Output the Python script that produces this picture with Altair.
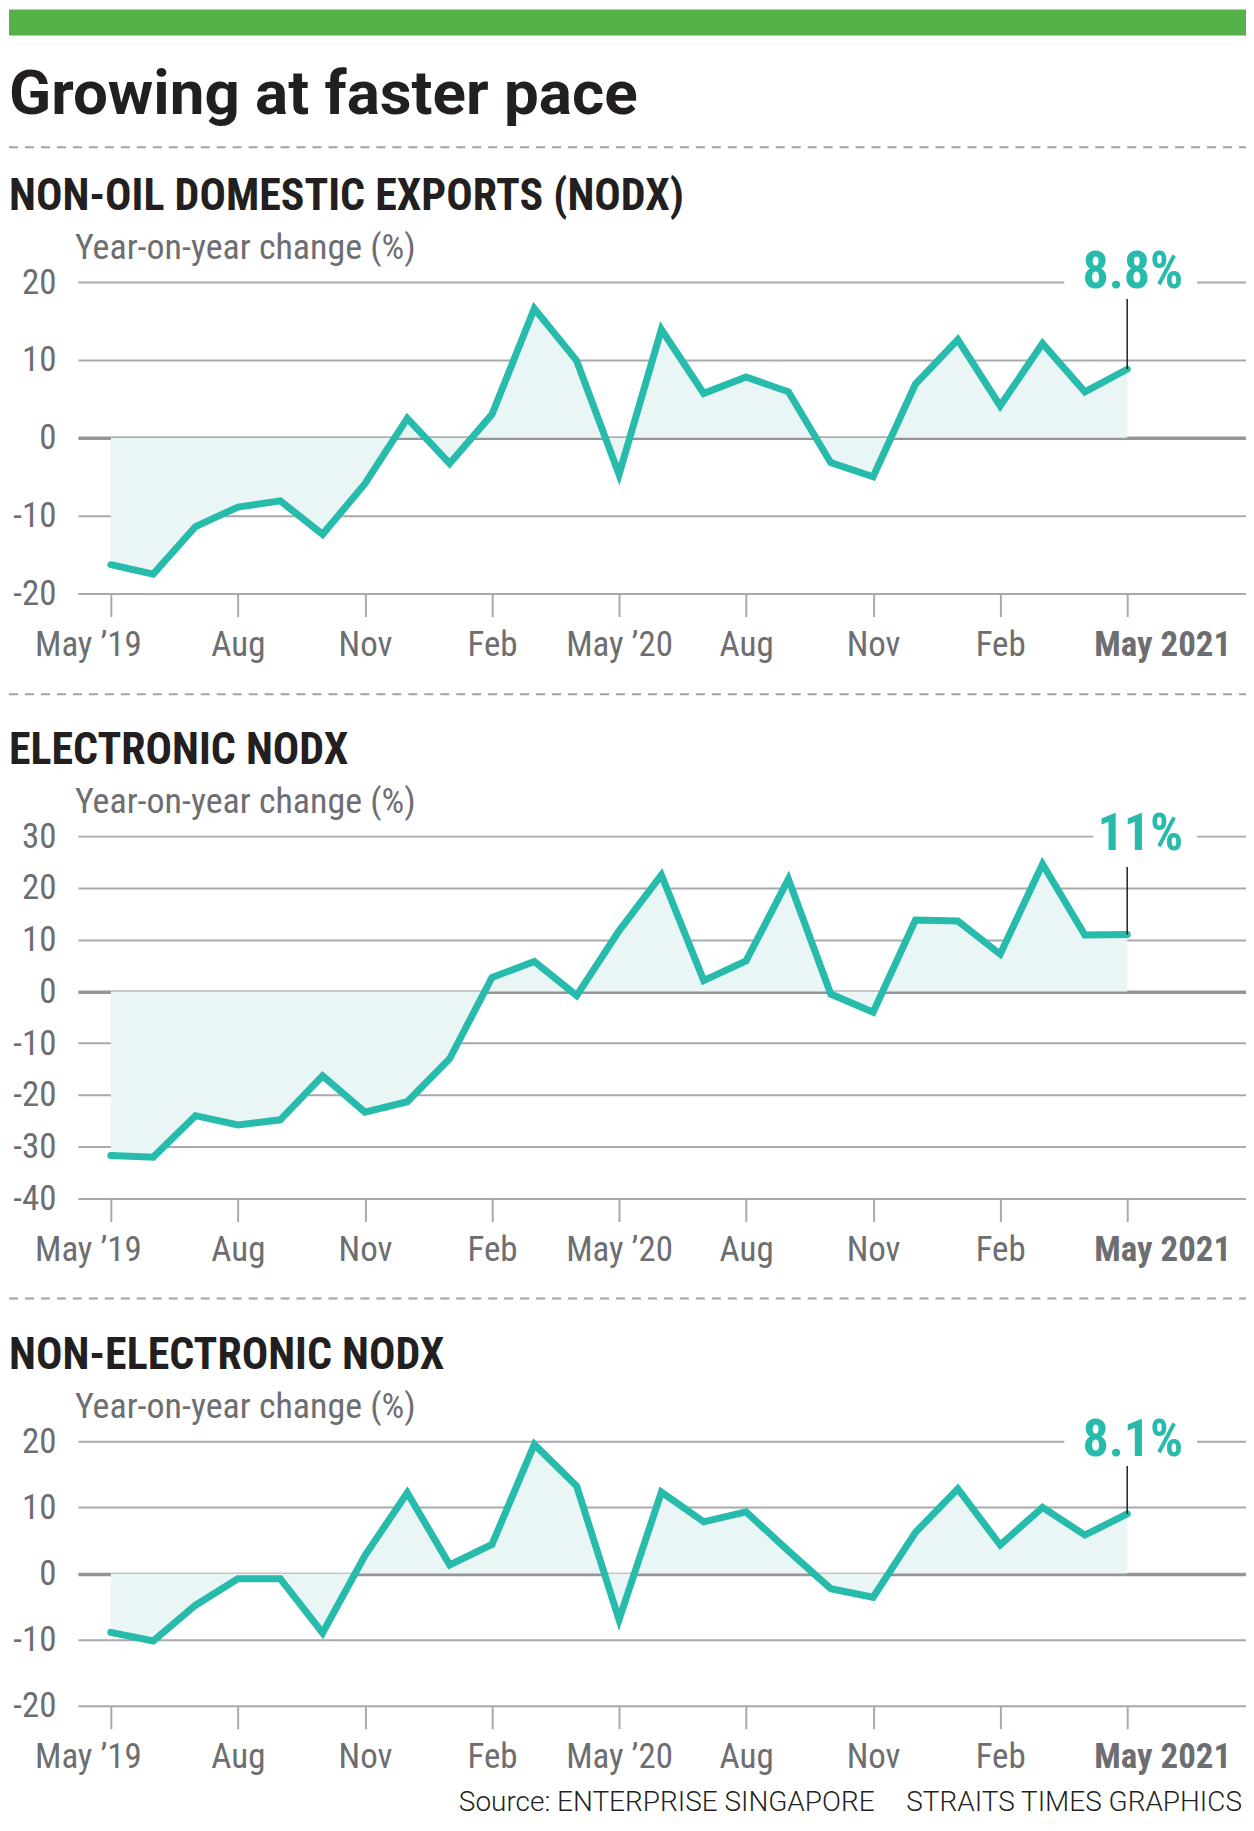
import json
import altair as alt
import pandas as pd

# ---------------- data ----------------
months = list(range(25))  # May 2019 .. May 2021
tick_months = [0, 3, 6, 9, 12, 15, 18, 21, 24]
tick_labels = ["May \u201919", "Aug", "Nov", "Feb", "May \u201920", "Aug", "Nov", "Feb", "May 2021"]

nodx = [-16.3, -17.5, -11.4, -8.9, -8.1, -12.4, -5.9, 2.5, -3.3, 3.0, 16.6, 9.9, -4.7,
        13.9, 5.7, 7.8, 5.9, -3.2, -5.0, 6.9, 12.6, 4.1, 12.1, 5.9, 8.8]
elec = [-31.7, -32.0, -24.0, -25.8, -24.8, -16.3, -23.3, -21.3, -13.0, 2.7, 5.8, -0.8, 11.7,
        22.5, 2.1, 5.9, 21.7, -0.5, -4.0, 13.8, 13.6, 7.2, 24.6, 10.9, 11.0]
nonelec = [-8.9, -10.2, -4.8, -0.8, -0.8, -9.0, 2.7, 12.2, 1.3, 4.4, 19.5, 13.2, -7.0,
           12.3, 7.8, 9.3, 3.4, -2.3, -3.6, 6.2, 12.8, 4.3, 10.0, 5.8, 9.0]

panel_titles = ["NON-OIL DOMESTIC EXPORTS (NODX)", "ELECTRONIC NODX", "NON-ELECTRONIC NODX"]
end_labels = ["8.8%", "11%", "8.1%"]
y_ticks = [[-20, -10, 0, 10, 20],
           [-40, -30, -20, -10, 0, 10, 20, 30],
           [-20, -10, 0, 10, 20]]
main_title = "Growing at faster pace"
axis_title = "Year-on-year change (%)"
source_left = "Source: ENTERPRISE SINGAPORE"
source_right = "STRAITS TIMES GRAPHICS"

# ---------------- style ----------------
TEAL = "#26bbaa"
FILL = "#e9f6f5"
GRID = "#a7a9ac"
ZERO = "#939598"
LABEL = "#6d6e71"
DARK = "#231f20"
GREEN = "#54b248"
DASH = "#a0a2a5"
FN = "Liberation Sans Narrow, Arial Narrow, Roboto Condensed, Roboto, sans-serif"
FT = "Roboto, sans-serif"

W = 1175
heights = [312, 363, 265]
dash_y = [-135, -142, -143]
sub_y = [-72, -72, -72]
lab_y = [6, 14, 15]
rule_top = [17, 31, 25]
gap_left = [-63, -34, -63]
X_DOMAIN = [-0.778, 26.923]

label_expr = json.dumps(tick_labels, ensure_ascii=False) + "[round(datum.value / 3)]"


def txt(s, x, y, size, weight="normal", color=DARK, font=FN, align="left"):
    return alt.Chart(pd.DataFrame({"t": [s]})).mark_text(
        align=align, baseline="alphabetic", font=font, fontSize=size,
        fontWeight=weight, color=color
    ).encode(x=alt.value(x), y=alt.value(y), text="t:N")


def panel(i, values):
    df = pd.DataFrame({"m": months, "v": values})
    yt = y_ticks[i]
    xscale = alt.Scale(domain=X_DOMAIN, nice=False, zero=False)
    yscale = alt.Scale(domain=[yt[0], yt[-1]], nice=False, zero=False)

    xaxis = alt.Axis(
        values=tick_months, grid=False, domain=False, ticks=True, tickSize=23,
        tickColor=GRID, tickWidth=2, title=None, labelExpr=label_expr,
        labelFont=FN, labelFontSize=35, labelColor=LABEL, labelPadding=39,
        labelBaseline="alphabetic", labelAlign="center",
        labelOffset={"condition": [{"test": "datum.value === 0", "value": -23},
                                   {"test": "datum.value === 24", "value": 35}],
                     "value": 0},
        labelFontWeight={"condition": {"test": "datum.value === 24", "value": "bold"},
                         "value": "normal"},
        labelFlush=False, labelOverlap=False,
    )
    yaxis = alt.Axis(
        values=yt, grid=True, domain=False, ticks=False, title=None,
        gridColor={"condition": {"test": "datum.value === 0", "value": ZERO}, "value": GRID},
        gridWidth={"condition": {"test": "datum.value === 0", "value": 3.5}, "value": 2},
        labelExpr="'' + datum.value", labelFont=FN, labelFontSize=35, labelColor=LABEL,
        labelPadding=22, labelAlign="right", labelBaseline="middle",
    )
    X = lambda: alt.X("m:Q", scale=xscale, axis=xaxis)
    Y = lambda: alt.Y("v:Q", scale=yscale, axis=yaxis)

    base = alt.Chart(df)
    area = base.mark_area(color=FILL, opacity=1).encode(x=X(), y=Y(), y2=alt.datum(0))
    line = base.mark_line(color=TEAL, strokeWidth=7, strokeJoin="miter",
                          strokeCap="round").encode(x=X(), y=Y())
    last = pd.DataFrame({"m": [months[-1]], "v": [values[-1]], "t": [end_labels[i]]})
    lastc = alt.Chart(last)
    gap = lastc.mark_rect(color="white", xOffset=gap_left[i], x2Offset=70).encode(
        x=X(), x2="m", y=alt.value(-4), y2=alt.value(4),
    )
    rule = lastc.mark_rule(color="#231f20", strokeWidth=1.5).encode(
        x=X(), y=Y(), y2=alt.value(rule_top[i]),
    )
    lab = lastc.mark_text(align="right", baseline="alphabetic", dx=56, font=FN,
                          fontSize=52, fontWeight="bold", color=TEAL).encode(
        x=X(), y=alt.value(lab_y[i]), text="t:N",
    )
    dash = alt.Chart(pd.DataFrame({"a": [0]})).mark_rule(
        color=DASH, strokeWidth=2, strokeDash=[9, 7]
    ).encode(x=alt.value(-69), x2=alt.value(W + 2), y=alt.value(dash_y[i]))

    layers = [area, line, gap, rule, lab, dash,
              txt(panel_titles[i], -69, sub_y[i], 44, weight="bold", color=DARK),
              txt(axis_title, -3, -23, 36, color=LABEL)]
    if i == 0:
        bar = alt.Chart(pd.DataFrame({"a": [0]})).mark_rect(color=GREEN).encode(
            x=alt.value(-69), x2=alt.value(W + 2), y=alt.value(-273), y2=alt.value(-247))
        layers += [bar, txt(main_title, -69, -168, 62, weight="bold", color=DARK, font=FT)]
    if i == 2:
        layers += [txt(source_left, 798, 370, 28, weight=300, color=DARK, font=FT, align="right"),
                   txt(source_right, 1166, 370, 28, weight=300, color=DARK, font=FT, align="right")]
    return alt.layer(*layers).properties(width=W, height=heights[i])


chart = alt.vconcat(
    panel(0, nodx), panel(1, elec), panel(2, nonelec),
    spacing=243, bounds="flush",
).properties(
    padding={"left": 0, "top": 0, "right": -8, "bottom": 0}, background="white"
).configure_view(stroke=None)

chart.save("out.html", embed_options={"renderer": "svg", "actions": False})
